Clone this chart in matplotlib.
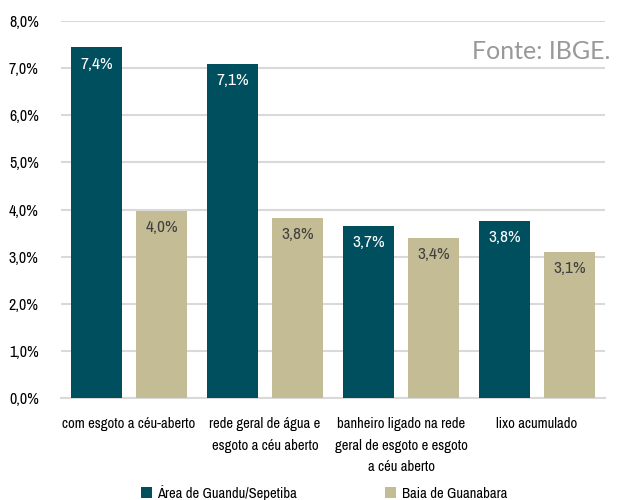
import matplotlib.pyplot as plt
from matplotlib import font_manager
import numpy as np

# dados do grafico (IBGE)
categorias = ['com esgoto a céu-aberto',
              'rede geral de água e\nesgoto a céu aberto',
              'banheiro ligado na rede\ngeral de esgoto e esgoto\na céu aberto',
              'lixo acumulado']
guandu = [7.44, 7.09, 3.66, 3.76]
guanabara = [3.97, 3.83, 3.40, 3.10]
series = ['Área de Guandu/Sepetiba', 'Baia de Guanabara']
yticks = [0, 1, 2, 3, 4, 5, 6, 7, 8]

cor_guandu = '#004f5f'
cor_guanabara = '#c4bc94'

# procura uma fonte condensada, se houver
cond = sorted({f.name for f in font_manager.fontManager.ttflist
               if 'Narrow' in f.name or 'Condensed' in f.name
               or f.stretch in ('condensed', 'semi-condensed', 'extra-condensed')})
if cond:
    plt.rcParams['font.family'] = [cond[0], 'DejaVu Sans']
    plt.rcParams['font.stretch'] = 'condensed'
    fs = 11.5
else:
    plt.rcParams['font.family'] = ['Liberation Sans', 'DejaVu Sans']
    fs = 9

fig = plt.figure(figsize=(6.24, 5.0), dpi=100)
ax = fig.add_axes([61 / 624, 1 - 398 / 500, 544 / 624, 377 / 500])

x = np.arange(len(categorias))
w = 0.375
off = 0.24
b1 = ax.bar(x - off, guandu, w, color=cor_guandu, label=series[0], zorder=3)
b2 = ax.bar(x + off, guanabara, w, color=cor_guanabara, label=series[1], zorder=3)

def fmt(v):
    return f'{v:.1f}%'.replace('.', ',')

for rect, v in zip(b1, guandu):
    ax.text(rect.get_x() + rect.get_width() / 2, v - 0.2, fmt(v),
            ha='center', va='top', color='white', fontsize=fs + 1, zorder=4)
for rect, v in zip(b2, guanabara):
    ax.text(rect.get_x() + rect.get_width() / 2, v - 0.2, fmt(v),
            ha='center', va='top', color='#404040', fontsize=fs + 1, zorder=4)

ax.set_xlim(-0.5, 3.5)
ax.set_ylim(0, 8)
ax.set_yticks(yticks)
ax.set_yticklabels([fmt(v) for v in yticks], fontsize=fs)
ax.set_xticks(x)
ax.set_xticklabels(categorias, fontsize=fs - 1, va='top', linespacing=1.65)
ax.tick_params(length=0, pad=16)
ax.tick_params(axis='x', pad=14)
ax.grid(axis='y', color='#d9d9d9', linewidth=1.5, zorder=0)
for s in ['top', 'right', 'left']:
    ax.spines[s].set_visible(False)
ax.spines['bottom'].set_color('#d9d9d9')
ax.spines['bottom'].set_linewidth(1.5)

ax.text(1.01, 0.92, 'Fonte: IBGE.', transform=ax.transAxes, ha='right',
        va='center', fontsize=18, color='#999999',
        family=['Lato', 'DejaVu Sans'], fontweight='normal', fontstretch='normal')

fig.legend(handles=[b1, b2], labels=series, loc='lower center',
           bbox_to_anchor=(0.519, -0.028), ncol=2, frameon=False,
           fontsize=fs - 1, handlelength=0.75, handleheight=0.75,
           columnspacing=6, handletextpad=0.4)

fig.savefig('out.png', dpi=100)
